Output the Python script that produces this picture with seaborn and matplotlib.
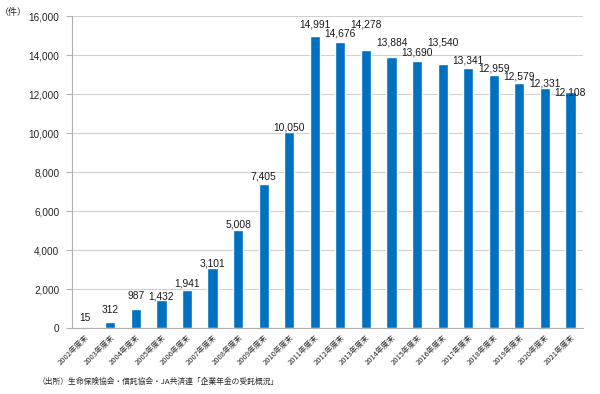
import numpy as np
import pandas as pd
import matplotlib
matplotlib.use("Agg")
import matplotlib.pyplot as plt
import seaborn as sns

years = [f"{y}年度末" for y in range(2002, 2022)]
counts = [15, 312, 987, 1432, 1941, 3101, 5008, 7405, 10050, 14991,
          14676, 14278, 13884, 13690, 13540, 13341, 12959, 12579, 12331, 12108]
yticks = [0, 2000, 4000, 6000, 8000, 10000, 12000, 14000, 16000]
unit_label = "（件）"
source_note = "（出所）生命保険協会・信託協会・JA共済連「企業年金の受託概況」"

# how far (pixels) each value label sits above its bar, as laid out in the original
label_lift = [10, 12, 13, 4, 7, 4, 6, 7, 5, 11,
              8, 25, 15, 9, 22, 7, 7, 6, 4, 0]

sns.set_theme(style="white")
plt.rcParams['font.family'] = ['Noto Sans CJK JP', 'DejaVu Sans']
num_font = ['Liberation Sans', 'DejaVu Sans']

df = pd.DataFrame({"year": years, "count": counts})

fig = plt.figure(figsize=(6, 3.94), dpi=100)
ax = fig.add_axes([0.12, 0.1675, 0.852, 0.7915])

sns.barplot(data=df, x="year", y="count", color="#0070C0", width=0.4,
            saturation=1, ax=ax)

ax.set_ylim(0, 16000)
ax.set_xlim(-0.5, len(years) - 0.5)
ax.set_yticks(yticks)
ax.set_yticklabels([f"{v:,}" for v in yticks], fontsize=7.2, color="#262626",
                   family=num_font)
ax.yaxis.grid(True, color="#d0d0d0", linewidth=0.8)
ax.set_axisbelow(True)

ax.set_xticks(range(len(years)))
ax.set_xticklabels(years, rotation=45, ha="right", rotation_mode="anchor",
                   fontsize=5.4, color="#262626")
ax.tick_params(axis="x", which="major", length=0, pad=4)
ax.set_xticks(np.arange(-0.5, len(years), 1), minor=True)
ax.tick_params(axis="x", which="minor", length=4, color="#b0b0b0", width=0.8)
ax.tick_params(axis="y", which="major", length=4, color="#b0b0b0", width=0.8,
               left=True, pad=5)

ax.set_xlabel("")
ax.set_ylabel("")
for s in ["top", "right"]:
    ax.spines[s].set_visible(False)
for s in ["left", "bottom"]:
    ax.spines[s].set_color("#b0b0b0")
    ax.spines[s].set_linewidth(0.8)

for i, (v, lift) in enumerate(zip(counts, label_lift)):
    ax.annotate(f"{v:,}", (i, v), xytext=(0, lift), textcoords="offset pixels",
                ha="center", va="center", fontsize=7.4, color="#1a1a1a",
                family=num_font)

fig.text(0.0, 0.968, unit_label, fontsize=6.5, color="#262626", va="center")
fig.text(0.062, 0.03, source_note, fontsize=5.6, color="#262626", va="center")

fig.savefig("out.png", dpi=100)
